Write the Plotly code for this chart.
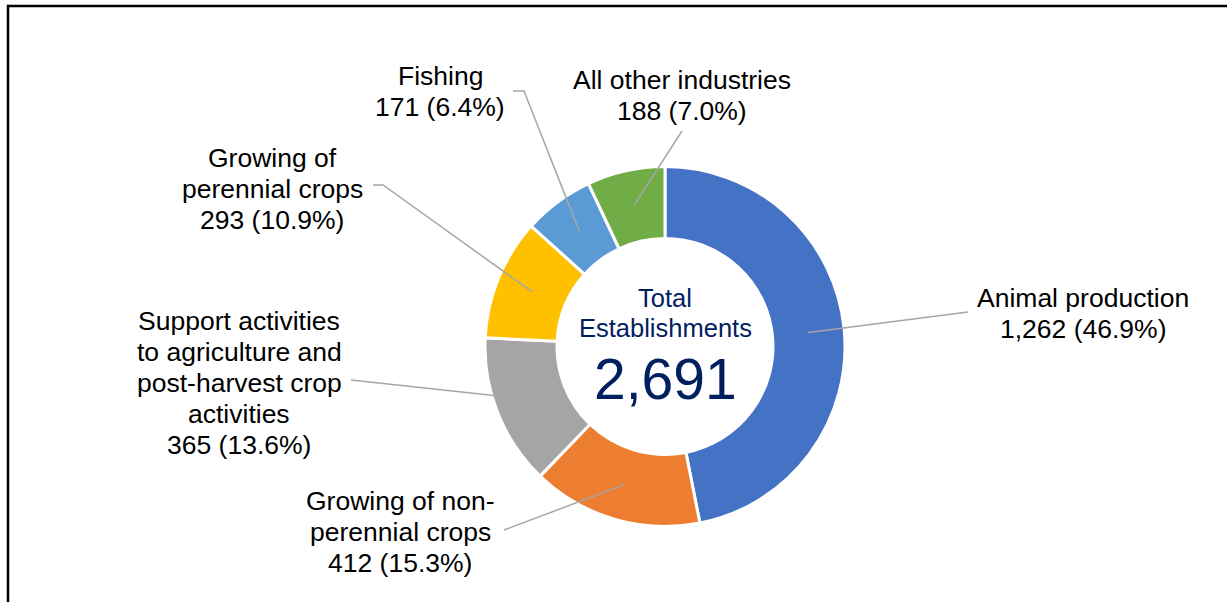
import math
import plotly.graph_objects as go

# ---- data ----
categories = [
    "Animal production",
    "Growing of non-perennial crops",
    "Support activities to agriculture and post-harvest crop activities",
    "Growing of perennial crops",
    "Fishing",
    "All other industries",
]
values = [1262, 412, 365, 293, 171, 188]
percents = ["46.9%", "15.3%", "13.6%", "10.9%", "6.4%", "7.0%"]
label_lines = [
    ["Animal production"],
    ["Growing of non-", "perennial crops"],
    ["Support activities", "to agriculture and", "post-harvest crop", "activities"],
    ["Growing of", "perennial crops"],
    ["Fishing"],
    ["All other industries"],
]
colors = ["#4472C4", "#ED7D31", "#A5A5A5", "#FFC000", "#5B9BD5", "#70AD47"]
total = sum(values)

# ---- layout geometry (pixels) ----
W, H = 1227, 602
CX, CY, R = 665, 346.5, 180
HOLE = 0.6
FONT = "Liberation Sans, Arial"

def px(x):
    return x / W

def py(y):
    return 1 - y / H

fig = go.Figure()
fig.add_trace(go.Pie(
    labels=categories,
    values=values,
    sort=False,
    direction="clockwise",
    rotation=0,
    hole=HOLE,
    marker=dict(colors=colors, line=dict(color="white", width=3)),
    textinfo="none",
    hoverinfo="label+value+percent",
    showlegend=False,
    domain=dict(x=[px(CX - R), px(CX + R)], y=[py(CY + R), py(CY - R)]),
))

# label placement: (center x, first line center y, elbow point(s))
label_pos = [
    dict(x=1083, y=298, elbow=[(968, 312)]),
    dict(x=400, y=501, elbow=[(504, 530)]),
    dict(x=239, y=321, elbow=[(351, 380)]),
    dict(x=272, y=158, elbow=[(373, 185), (383, 185)]),
    dict(x=440, y=76, elbow=[(513, 91), (524, 91)]),
    dict(x=682, y=80, elbow=[(682, 131)]),
]
LINE_H = 31

annotations = []
shapes = []
cum = 0
for i, v in enumerate(values):
    mid = (cum + v / 2) / total
    cum += v
    ang = 2 * math.pi * mid
    rr = R * (1 + HOLE) / 2
    ax = CX + rr * math.sin(ang)
    ay = CY - rr * math.cos(ang)
    pos = label_pos[i]
    lines = label_lines[i] + [f"{v:,} ({percents[i]})"]
    for k, t in enumerate(lines):
        annotations.append(dict(
            x=px(pos["x"]), y=py(pos["y"] + k * LINE_H), xref="paper", yref="paper",
            text=t, showarrow=False, xanchor="center", yanchor="middle",
            font=dict(family=FONT, size=26.5, color="#000000"),
        ))
    pts = pos["elbow"] + [(ax, ay)]
    path = "M " + " L ".join(f"{px(x):.5f},{py(y):.5f}" for x, y in pts)
    shapes.append(dict(type="path", xref="paper", yref="paper", path=path,
                       line=dict(color="#A6A6A6", width=1.5)))

# center text
annotations += [
    dict(x=px(CX), y=py(298), xref="paper", yref="paper", text="Total", showarrow=False,
         font=dict(family=FONT, size=25.5, color="#002060")),
    dict(x=px(CX), y=py(328), xref="paper", yref="paper", text="Establishments", showarrow=False,
         font=dict(family=FONT, size=25.5, color="#002060")),
    dict(x=px(CX), y=py(379), xref="paper", yref="paper", text=f"{total:,}", showarrow=False,
         font=dict(family=FONT, size=57, color="#002060")),
]

# chart frame (top and left edges visible)
shapes.append(dict(type="rect", xref="paper", yref="paper",
                   x0=px(8), x1=1.02, y0=-0.02, y1=py(6),
                   line=dict(color="#000000", width=2.5)))

fig.update_layout(
    width=W, height=H,
    margin=dict(l=0, r=0, t=0, b=0),
    paper_bgcolor="white", plot_bgcolor="white",
    annotations=annotations, shapes=shapes,
)
fig.write_html(
    "out.html",
    config={"displayModeBar": False},
    post_script="document.body.style.margin='0';document.body.style.overflow='hidden';",
)
